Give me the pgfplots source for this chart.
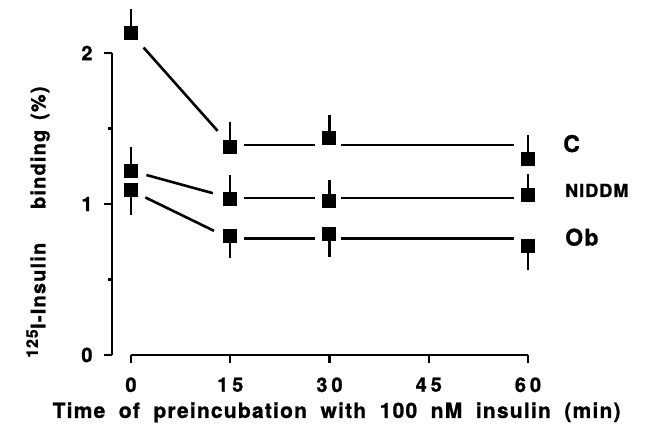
\documentclass[border=0pt]{standalone}
\usepackage{fontspec}
\setmainfont{TeX Gyre Heros}[BoldFeatures={FakeBold=1.2}]
\newfontfamily\lsfont[LetterSpace=6,BoldFeatures={FakeBold=1.2}]{TeX Gyre Heros}
\usepackage{pgfplots}
\pgfplotsset{compat=1.18}
\begin{document}
\begin{tikzpicture}
\useasboundingbox (-112bp,-81bp) rectangle (537bp,355bp);
\begin{axis}[
  scale only axis, width=416bp, height=302bp,
  at={(0,0)}, anchor=south west,
  xmin=-2.87, xmax=60, ymin=0, ymax=2,
  clip=false,
  axis x line*=bottom, axis y line*=left,
  x axis line style={draw=none},
  y axis line style={line width=2.5bp},
  tick style={line width=2.5bp, black},
  tick align=outside,
  major tick length=8bp, minor tick length=4bp,
  xtick={0,15,30,45,60},
  xticklabels={0,{1\hspace{4bp}5},{3\hspace{4bp}0},{4\hspace{4bp}5},{6\hspace{4bp}0}},
  ytick={0,1,2}, minor ytick={0.5,1.5},
  yticklabels={0,1,2},
  /pgf/number format/assume math mode=true,
  ticklabel style={font=\fontsize{20}{22}\selectfont\bfseries},
  xticklabel style={yshift=-11bp},
  yticklabel style={xshift=-8bp},
  every axis y label/.style={at={(axis description cs:-0.178,0.44)}, rotate=90, anchor=center},
  every axis x label/.style={at={(axis description cs:0.54,-0.19)}, anchor=center},
  ylabel={\lsfont\fontsize{20}{22}\selectfont\bfseries\spaceskip=0.5em $^{\mbox{\lsfont\fontsize{16}{18}\selectfont\bfseries 125}}$I-Insulin\hspace{1.2em} binding (\%)},
  xlabel={\lsfont\fontsize{21}{24}\selectfont\bfseries\spaceskip=0.65em Time of preincubation with 100 nM insulin (min)},
]
\draw[line width=2.5bp] (axis cs:0,0) -- (axis cs:60,0);
% fitted lines
\addplot[line width=2.6bp, shorten >=19bp, shorten <=19bp] coordinates {(0,2.13) (15,1.39)};
\addplot[line width=2.6bp, shorten >=14bp, shorten <=14bp] coordinates {(15,1.39) (30,1.39)};
\addplot[line width=2.6bp, shorten >=14bp, shorten <=12bp] coordinates {(30,1.39) (60,1.39)};
\addplot[line width=2.6bp, shorten >=18bp, shorten <=16bp] coordinates {(0,1.22) (15,1.04)};
\addplot[line width=2.6bp, shorten >=14bp, shorten <=14bp] coordinates {(15,1.04) (30,1.04)};
\addplot[line width=2.6bp, shorten >=14bp, shorten <=12bp] coordinates {(30,1.04) (60,1.04)};
\addplot[line width=2.6bp, shorten >=18bp, shorten <=16bp] coordinates {(0,1.09) (15,0.77)};
\addplot[line width=2.6bp, shorten >=14bp, shorten <=14bp] coordinates {(15,0.77) (30,0.77)};
\addplot[line width=2.6bp, shorten >=14bp, shorten <=12bp] coordinates {(30,0.77) (60,0.77)};
% data
\addplot[only marks, mark=square*, mark size=6.5bp, mark options={line width=1bp},
  error bars/.cd, y dir=plus, y explicit, error mark=none,
  error bar style={line width=2.5bp}]
  coordinates {(0,2.13) +- (0,0.16) (15,1.38) +- (0,0.16) (30,1.44) +- (0,0.15) (60,1.30) +- (0,0.16)};
\addplot[only marks, mark=square*, mark size=6.5bp, mark options={line width=1bp},
  error bars/.cd, y dir=plus, y explicit, error mark=none,
  error bar style={line width=2.5bp}]
  coordinates {(0,1.22) +- (0,0.16) (15,1.03) +- (0,0.16) (30,1.02) +- (0,0.14) (60,1.06) +- (0,0.14)};
\addplot[only marks, mark=square*, mark size=6.5bp, mark options={line width=1bp},
  error bars/.cd, y dir=minus, y explicit, error mark=none,
  error bar style={line width=2.5bp}]
  coordinates {(0,1.09) +- (0,0.16) (15,0.79) +- (0,0.15) (30,0.80) +- (0,0.15) (60,0.72) +- (0,0.16)};
\node[anchor=west, font=\fontsize{23}{25}\selectfont\bfseries] at (axis cs:64.8,1.40) {C};
\node[anchor=west, font=\lsfont\fontsize{18}{20}\selectfont\bfseries] at (axis cs:65.1,1.09) {NIDDM};
\node[anchor=west, font=\lsfont\fontsize{23}{25}\selectfont\bfseries] at (axis cs:65.1,0.78) {Ob};
\end{axis}
\end{tikzpicture}
\end{document}
